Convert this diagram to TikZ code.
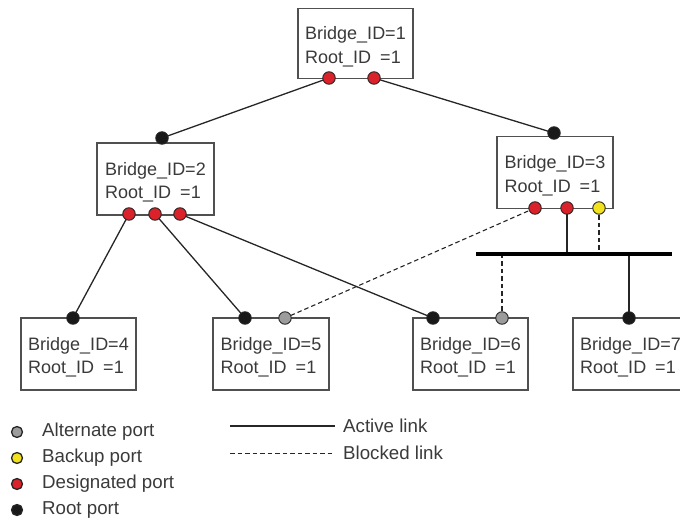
\documentclass[tikz,border=0pt]{standalone}
\usepackage{fontspec}
\setmainfont{Liberation Sans}
\usetikzlibrary{backgrounds}
\definecolor{txt}{HTML}{3A3A3A}
\definecolor{boxc}{HTML}{505050}
\definecolor{desred}{HTML}{D9222A}
\definecolor{altgray}{HTML}{9C9C9C}
\definecolor{backyel}{HTML}{F2E21E}
\newcommand{\brtext}[1]{\rule{0pt}{20pt}Bridge\_ID=#1\\Root\_ID\enspace=1}
\begin{document}
\begin{tikzpicture}[x=1pt,y=-1pt,
 bridge/.style={draw=boxc, line width=1.3pt, fill=white, minimum height=72pt, inner sep=0pt, align=left, font=\fontsize{18}{23.5}\selectfont, text=txt},
 port/.style={circle, draw=black!85, line width=0.9pt, minimum size=12.5pt, inner sep=0pt},
 rootp/.style={port, fill=black!90},
 desig/.style={port, fill=desred},
 altp/.style={port, fill=altgray},
 backp/.style={port, fill=backyel},
 legdot/.style={minimum size=11pt, line width=1.3pt},
 legtxt/.style={anchor=west, inner sep=0pt, font=\fontsize{18.7}{22}\selectfont, text=txt},
 link/.style={line width=1.3pt, draw=black!85},
 blocked/.style={line width=1.1pt, draw=black!85, dash pattern=on 4.5pt off 3pt},
 bus/.style={line width=4pt, draw=black},
]
\useasboundingbox (0,0) rectangle (680,526);
\clip (0,0) rectangle (680,526);
% bridges
\node[bridge, minimum width=115pt, minimum height=70pt] (b1) at (355.5,43.5) {\brtext{1}};
\node[bridge, minimum width=117pt] (b2) at (155.5,179) {\brtext{2}};
\node[bridge, minimum width=116pt] (b3) at (555,172.5) {\brtext{3}};
\node[bridge, minimum width=115pt] (b4) at (78.5,354) {\brtext{4}};
\node[bridge, minimum width=116pt] (b5) at (271,354) {\brtext{5}};
\node[bridge, minimum width=115pt] (b6) at (470.5,354) {\brtext{6}};
\node[bridge, minimum width=115pt] (b7) at (630.5,354) {\brtext{7}};
% ports
\node[desig] (p1a) at (329,78) {};
\node[desig] (p1b) at (374,78) {};
\node[rootp] (p2r) at (162,138) {};
\node[desig] (p2a) at (129,214) {};
\node[desig] (p2b) at (155,214) {};
\node[desig] (p2c) at (180,214) {};
\node[rootp] (p3r) at (554,133) {};
\node[desig] (p3a) at (535,208) {};
\node[desig] (p3b) at (567,208) {};
\node[backp] (p3c) at (599,208) {};
\node[rootp] (p4r) at (73,318) {};
\node[rootp] (p5r) at (245,318) {};
\node[altp] (p5a) at (285,318) {};
\node[rootp] (p6r) at (433,318) {};
\node[altp] (p6a) at (502,318) {};
\node[rootp] (p7r) at (629,318) {};
% bus
\coordinate (busL) at (476,254);
\coordinate (busR) at (672,254);
\coordinate (bus3b) at (567,254);
\coordinate (bus3c) at (599,254);
\coordinate (bus6) at (502,254);
\coordinate (bus7) at (629,254);
\begin{scope}[on background layer]
\draw[link] (p1a.center) -- (p2r.center);
\draw[link] (p1b.center) -- (p3r.center);
\draw[link] (p2a.center) -- (p4r.center);
\draw[link] (p2b.center) -- (p5r.center);
\draw[link] (p2c.center) -- (p6r.center);
\draw[blocked] (p3a.center) -- (p5a.center);
\draw[link] (p3b.center) -- (bus3b);
\draw[blocked] (p3c.center) -- (bus3c);
\draw[blocked] (bus6) -- (p6a.center);
\draw[link] (bus7) -- (p7r.center);
\end{scope}
\draw[bus] (busL) -- (busR);
% legend
\node[altp, legdot] (l1) at (17,432) {};
\node[legtxt] (t1) at (42,432) {Alternate port};
\node[backp, legdot] (l2) at (17,458) {};
\node[legtxt] (t2) at (42,458) {Backup port};
\node[desig, legdot] (l3) at (17,484) {};
\node[legtxt] (t3) at (42,484) {Designated port};
\node[rootp, legdot] (l4) at (17,510) {};
\node[legtxt] (t4) at (42,510) {Root port};
\node[legtxt] (t5) at (343,426) {Active link};
\node[legtxt] (t6) at (343,453) {Blocked link};
\coordinate (a1) at (230,426);
\coordinate (a2) at (335,426);
\coordinate (d1) at (230,453);
\coordinate (d2) at (335,453);
\draw[link, line width=1.1pt] (a1) -- (a2);
\draw[blocked, line width=1pt] (d1) -- (d2);
\end{tikzpicture}
\end{document}
